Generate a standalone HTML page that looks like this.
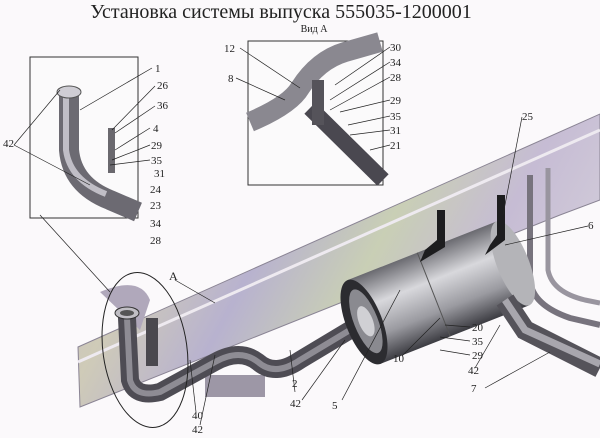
<!DOCTYPE html>
<html><head><meta charset="utf-8"><style>
html,body{margin:0;padding:0;background:#fbf9fb;}
svg{display:block}
text{font-family:"Liberation Serif",serif;fill:#222;font-size:11px}
</style></head><body>
<svg width="600" height="438" viewBox="0 0 600 438" xmlns="http://www.w3.org/2000/svg">
<defs>
<linearGradient id="fr" x1="0" y1="0" x2="1" y2="0.3">
<stop offset="0" stop-color="#bdb6c9"/><stop offset="0.25" stop-color="#cfcbb8"/><stop offset="0.45" stop-color="#b8b2cf"/><stop offset="0.65" stop-color="#c9cfb5"/><stop offset="0.85" stop-color="#c6bcd4"/><stop offset="1" stop-color="#cfc8d8"/>
</linearGradient>
<linearGradient id="cyl" x1="0" y1="0" x2="0" y2="1">
<stop offset="0" stop-color="#6a6a70"/><stop offset="0.35" stop-color="#d8d8dc"/><stop offset="0.7" stop-color="#9a9aa0"/><stop offset="1" stop-color="#3c3c42"/>
</linearGradient>
</defs>
<text x="281" y="18" text-anchor="middle" style="font-size:20px">Установка системы выпуска 555035-1200001</text>
<text x="314" y="32" text-anchor="middle" style="font-size:10px">Вид А</text>

<!-- frame -->
<polygon points="78,347 600,114 600,200 560,215 80,407" fill="url(#fr)" stroke="#8a8494" stroke-width="1"/>
<polyline points="78,362 600,130" fill="none" stroke="#eeeaf0" stroke-width="3"/>
<!-- right frame member -->
<path d="M530,175 L530,280 Q532,305 570,318 L600,325" fill="none" stroke="#77737d" stroke-width="6"/>
<path d="M548,168 L548,270 Q552,292 585,300 L600,303" fill="none" stroke="#99959f" stroke-width="5"/>
<!-- bracket near frame -->
<path d="M100,292 Q140,275 150,300 L140,330 Z" fill="#b0a8bb"/>
<rect x="205" y="375" width="60" height="22" fill="#9d97a6"/>

<!-- pipes -->
<path d="M127,318 L130,380 Q135,398 160,392 L215,362 Q240,348 258,362 Q275,377 300,360 L350,330" fill="none" stroke="#4e4c54" stroke-width="18" stroke-linecap="round"/>
<path d="M127,318 L130,380 Q135,398 160,392 L215,362 Q240,348 258,362 Q275,377 300,360 L350,330" fill="none" stroke="#8e8c94" stroke-width="6"/>
<ellipse cx="127" cy="313" rx="12" ry="6" fill="#c0bec4" stroke="#333"/>
<ellipse cx="127" cy="313" rx="7" ry="3" fill="#555"/>
<rect x="146" y="318" width="12" height="48" fill="#4a484e"/>
<ellipse cx="145" cy="350" rx="42" ry="78" transform="rotate(-8 145 350)" fill="none" stroke="#222" stroke-width="1"/>

<!-- muffler -->
<g transform="translate(364,322) rotate(-21.5)">
<rect x="0" y="-45" width="160" height="90" fill="url(#cyl)"/>
<ellipse cx="160" cy="0" rx="16" ry="45" fill="#b4b4b8"/>
<ellipse cx="0" cy="0" rx="18" ry="45" fill="#2c2c30"/>
<ellipse cx="2" cy="0" rx="12" ry="34" fill="#8a8a90"/>
<ellipse cx="2" cy="0" rx="7" ry="16" fill="#d0d0d4"/>
<line x1="75" y1="-45" x2="75" y2="45" stroke="#555"/>
</g>
<polygon points="420,262 445,247 445,210 437,210 437,240 425,250" fill="#1d1d1f"/>
<polygon points="485,255 505,240 505,195 497,195 497,235 490,245" fill="#1d1d1f"/>
<!-- tail pipe -->
<path d="M505,300 L525,330 L600,368" fill="none" stroke="#55535a" stroke-width="20"/>
<path d="M505,300 L525,330 L600,364" fill="none" stroke="#a8a6ad" stroke-width="7"/>

<!-- insets -->
<rect x="30" y="57" width="108" height="161" fill="#fbfafb" stroke="#333"/>
<path d="M69,95 L69,150 Q72,185 110,200 L138,212" fill="none" stroke="#6c6a72" stroke-width="20"/>
<path d="M66,95 L66,150 Q70,180 106,194" fill="none" stroke="#c0bec6" stroke-width="6"/>
<ellipse cx="69" cy="92" rx="12" ry="6" fill="#cfcdd4" stroke="#555"/>
<rect x="108" y="128" width="7" height="45" fill="#6a686e"/>
<rect x="248" y="41" width="135" height="144" fill="#fbfafb" stroke="#333"/>
<path d="M250,122 Q290,105 300,88 Q318,60 345,52 L380,42" fill="none" stroke="#8a8890" stroke-width="20"/>
<path d="M310,108 L383,180" stroke="#4a4850" stroke-width="16"/>
<rect x="312" y="80" width="12" height="45" fill="#55535a"/>

<!-- labels -->
<g stroke="#222" stroke-width="0.7" fill="none">
<path d="M152,68 L80,110"/><path d="M155,86 L112,130"/><path d="M155,106 L115,133"/>
<path d="M150,128 L115,150"/><path d="M150,145 L112,160"/><path d="M150,160 L110,165"/>
<path d="M14,145 L60,90"/><path d="M14,145 L90,185"/>
<path d="M40,215 L110,292"/><path d="M175,280 L215,303"/>
<path d="M240,48 L300,88"/><path d="M236,78 L285,100"/>
<path d="M390,47 L335,85"/><path d="M390,62 L330,100"/><path d="M390,77 L330,110"/>
<path d="M390,100 L340,112"/><path d="M390,116 L348,125"/><path d="M390,130 L350,135"/><path d="M390,145 L370,150"/>
<path d="M522,117 L503,215"/><path d="M588,226 L505,245"/>
<path d="M196,412 L190,360"/><path d="M200,425 L215,355"/>
<path d="M295,392 L290,350"/><path d="M302,400 L345,340"/><path d="M342,400 L400,290"/>
<path d="M402,356 L440,318"/><path d="M470,327 L445,325"/><path d="M470,341 L440,337"/><path d="M470,355 L440,350"/>
<path d="M475,368 L500,325"/><path d="M485,388 L550,352"/>
</g>
<text x="155" y="72">1</text><text x="157" y="89">26</text><text x="157" y="109">36</text>
<text x="153" y="132">4</text><text x="151" y="149">29</text><text x="151" y="164">35</text>
<text x="154" y="177">31</text><text x="150" y="193">24</text><text x="150" y="209">23</text>
<text x="150" y="227">34</text><text x="150" y="244">28</text><text x="3" y="147">42</text>
<text x="224" y="52">12</text><text x="228" y="82">8</text>
<text x="390" y="51">30</text><text x="390" y="66">34</text><text x="390" y="81">28</text>
<text x="390" y="104">29</text><text x="390" y="120">35</text><text x="390" y="134">31</text><text x="390" y="149">21</text>
<text x="522" y="120">25</text><text x="588" y="229">6</text>
<text x="169" y="280" style="font-size:12px">A</text>
<text x="292" y="387">2</text><text x="290" y="407">42</text><text x="332" y="409">5</text>
<text x="393" y="362">10</text><text x="472" y="331">20</text><text x="472" y="345">35</text><text x="472" y="359">29</text>
<text x="468" y="374">42</text><text x="471" y="392">7</text>
<text x="192" y="419">40</text><text x="192" y="433">42</text>
</svg>
</body></html>
